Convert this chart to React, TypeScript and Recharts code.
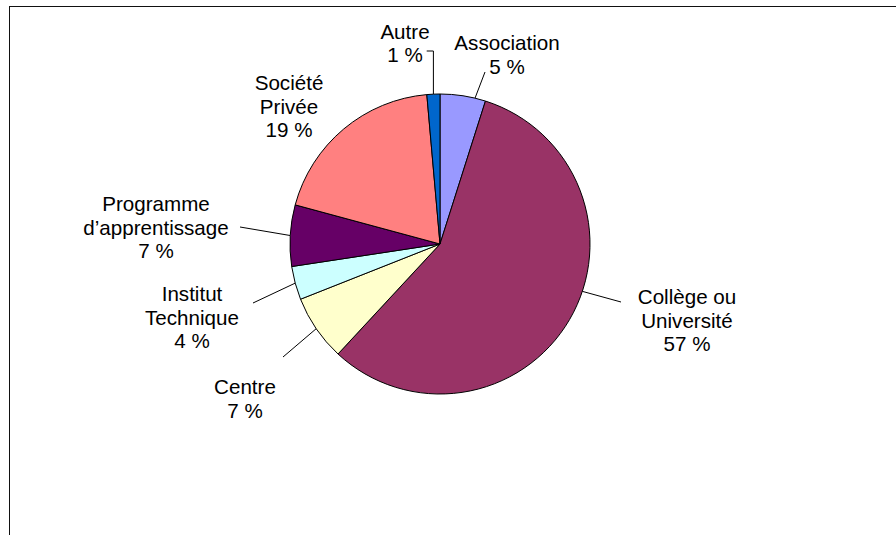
import { PieChart, Pie, Cell } from 'recharts';

const categories = [
  'Association',
  'Collège ou\nUniversité',
  'Centre',
  'Institut\nTechnique',
  'Programme\nd’apprentissage',
  'Société\nPrivée',
  'Autre',
];
const shares = [4.9, 57.0, 7.1, 3.6, 6.6, 19.4, 1.4];
const colors = ['#9999FF', '#993366', '#FFFFCC', '#CCFFFF', '#660066', '#FF8080', '#0066CC'];

const data = categories.map((name, i) => ({ name, value: shares[i] }));

// label placement relative to the pie centre (text x centre, first baseline)
type Leader = { angle?: number; points: [number | null, number][] };
const labelLayout: { x: number; y: number; leader?: Leader }[] = [
  { x: 67, y: -194, leader: { angle: 76.5, points: [[45, -172]] } },
  { x: 247, y: 60, leader: { angle: -18.4, points: [[181, 58]] } },
  { x: -195, y: 150, leader: { points: [[-157, 113]] } },
  { x: -248, y: 57, leader: { points: [[-187, 59]] } },
  { x: -284, y: -33, leader: { points: [[-200, -17]] } },
  { x: -151, y: -154 },
  { x: -35, y: -205.5, leader: { points: [[null, -193], [-13.3, -193]] } },
];

const RAD = Math.PI / 180;
const LINE_H = 23.6;
const FONT = '"Liberation Sans", Arial, sans-serif';

function renderLabel(props: any) {
  const { cx, cy, midAngle, outerRadius, index, percent } = props;
  const lay = labelLayout[index];
  const lines = [...String(categories[index]).split('\n'), `${Math.round(percent * 100)} %`];
  let leader = null;
  if (lay.leader) {
    const a = lay.leader.angle ?? midAngle;
    const sx = cx + outerRadius * Math.cos(-a * RAD);
    const sy = cy + outerRadius * Math.sin(-a * RAD);
    const pts = [[sx, sy], ...lay.leader.points.map(([px, py]) => [px === null ? sx : cx + px, cy + py])];
    leader = (
      <polyline
        points={pts.map((p) => p.join(',')).join(' ')}
        fill="none"
        stroke="#000"
        strokeWidth={1}
      />
    );
  }
  return (
    <g key={`lbl-${index}`}>
      {leader}
      <text x={cx + lay.x} y={cy + lay.y} textAnchor="middle" fontFamily={FONT} fontSize={20.6} fill="#000">
        {lines.map((l, i) => (
          <tspan key={i} x={cx + lay.x} y={cy + lay.y + i * LINE_H}>
            {l}
          </tspan>
        ))}
      </text>
    </g>
  );
}

export default function App() {
  return (
    <div
      style={{
        position: 'absolute',
        left: 0,
        top: 0,
        width: 896,
        height: 535,
        overflow: 'hidden',
        background: '#fff',
      }}
    >
      <div
        style={{
          position: 'absolute',
          left: 9,
          top: 6,
          width: 1000,
          height: 1000,
          borderTop: '1px solid #111',
          borderLeft: '1px solid #111',
        }}
      />
      <div style={{ position: 'absolute', left: 0, top: 0 }}>
        <PieChart width={896} height={535} margin={{ top: 0, right: 0, bottom: 0, left: 0 }}>
          <Pie
            data={data}
            dataKey="value"
            nameKey="name"
            cx={440}
            cy={244}
            outerRadius={150}
            startAngle={90}
            endAngle={-270}
            stroke="#000"
            strokeWidth={1}
            labelLine={false}
            label={renderLabel}
            isAnimationActive={false}
          >
            {data.map((d, i) => (
              <Cell key={d.name} fill={colors[i]} stroke="#000" strokeWidth={1} />
            ))}
          </Pie>
        </PieChart>
      </div>
    </div>
  );
}
